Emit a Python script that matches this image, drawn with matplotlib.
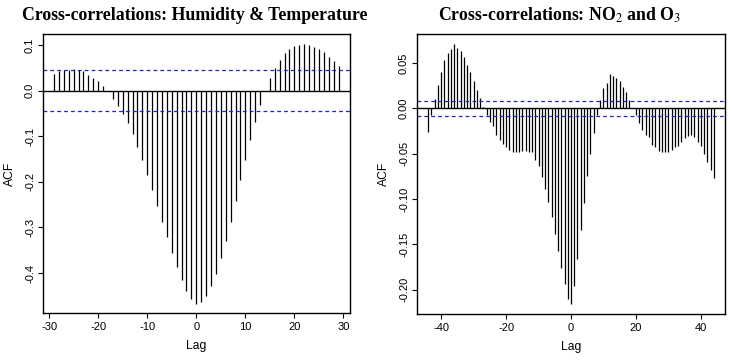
import matplotlib
matplotlib.use("Agg")
import matplotlib.pyplot as plt
import numpy as np

plt.rcParams['font.family'] = ['Liberation Sans', 'DejaVu Sans']
plt.rcParams['mathtext.fontset'] = 'stix'
plt.rcParams['axes.unicode_minus'] = False

# Humidity & Temperature cross-correlations, lags -29..29
ht_lags = np.arange(-29, 30)
ht_acf = [0.036, 0.042, 0.044, 0.046, 0.047, 0.046, 0.042, 0.035, 0.028, 0.020,
          0.010, -0.002, -0.018, -0.034, -0.052, -0.072, -0.096, -0.123, -0.152, -0.184,
          -0.218, -0.252, -0.287, -0.322, -0.355, -0.387, -0.415, -0.439, -0.457, -0.467,
          -0.464, -0.451, -0.429, -0.401, -0.368, -0.330, -0.288, -0.243, -0.197, -0.152,
          -0.108, -0.068, -0.032, -0.002, 0.028, 0.050, 0.067, 0.082, 0.091, 0.097,
          0.100, 0.101, 0.100, 0.096, 0.091, 0.084, 0.074, 0.065, 0.054]
ht_ci = 0.0453

# NO2 and O3 cross-correlations, lags -44..44
no_lags = np.arange(-44, 45)
no_acf = [-0.026, -0.007, 0.010, 0.026, 0.040, 0.053, 0.061, 0.066, 0.071, 0.067,
          0.063, 0.057, 0.048, 0.040, 0.030, 0.020, 0.011, 0.002, -0.007, -0.015,
          -0.020, -0.029, -0.035, -0.039, -0.043, -0.046, -0.048, -0.048, -0.048, -0.047,
          -0.047, -0.048, -0.048, -0.057, -0.064, -0.076, -0.089, -0.103, -0.120, -0.139,
          -0.157, -0.176, -0.194, -0.210, -0.216, -0.196, -0.166, -0.134, -0.104, -0.075,
          -0.050, -0.027, -0.007, 0.009, 0.022, 0.028, 0.038, 0.036, 0.034, 0.030,
          0.024, 0.018, 0.009, 0.000, -0.007, -0.016, -0.024, -0.029, -0.032, -0.040,
          -0.043, -0.047, -0.048, -0.048, -0.048, -0.046, -0.043, -0.041, -0.037, -0.033,
          -0.031, -0.029, -0.032, -0.037, -0.042, -0.050, -0.059, -0.068, -0.077]
no_ci = 0.0081

fig = plt.figure(figsize=(7.32, 3.64), dpi=100)
ax1 = fig.add_axes([0.0583, 0.1401, 0.4197, 0.7665])
ax2 = fig.add_axes([0.5693, 0.1374, 0.4215, 0.7692])


def ccf_panel(ax, lags, acf, ci, title, title_x, yticks, yfmt, ylim):
    ax.vlines(lags, 0, acf, color='black', linewidth=0.9)
    ax.axhline(0, color='black', linewidth=1.0)
    ax.axhline(ci, color='#2222cc', linestyle=(0, (3, 2.5)), linewidth=0.9)
    ax.axhline(-ci, color='#2222cc', linestyle=(0, (3, 2.5)), linewidth=0.9)
    span = lags[-1] - lags[0]
    ax.set_xlim(lags[0] - 0.04 * span, lags[-1] + 0.04 * span)
    ax.set_ylim(*ylim)
    ax.set_yticks(yticks)
    ax.set_yticklabels([yfmt.format(v) for v in yticks])
    ax.tick_params(axis='both', labelsize=8, length=3.8, width=0.8, colors='black')
    ax.tick_params(axis='y', pad=1.7)
    ax.tick_params(axis='x', pad=3.0)
    for lab in ax.get_yticklabels():
        lab.set_rotation(90)
        lab.set_va('center')
    ax.set_xlabel('Lag', fontsize=8.7)
    ax.set_ylabel('ACF', fontsize=8.7)
    ax.xaxis.set_label_coords(0.5, -0.095)
    ax.yaxis.set_label_coords(-0.087, 0.5)
    ax.set_title(title, fontsize=12.8, fontweight='bold', family='Liberation Serif',
                 pad=10, x=title_x)
    for sp in ax.spines.values():
        sp.set_linewidth(1.0)


ccf_panel(ax1, ht_lags, ht_acf, ht_ci, 'Cross-correlations: Humidity & Temperature', 0.494,
          [-0.4, -0.3, -0.2, -0.1, 0.0, 0.1], '{:.1f}', (-0.4875, 0.124))
ax1.set_xticks([-30, -20, -10, 0, 10, 20, 30])

ccf_panel(ax2, no_lags, no_acf, no_ci, r'Cross-correlations: NO$_2$ and O$_3$', 0.464,
          [-0.20, -0.15, -0.10, -0.05, 0.00, 0.05], '{:.2f}', (-0.2268, 0.082))
ax2.set_xticks([-40, -20, 0, 20, 40])

fig.savefig('out.png', dpi=100)
